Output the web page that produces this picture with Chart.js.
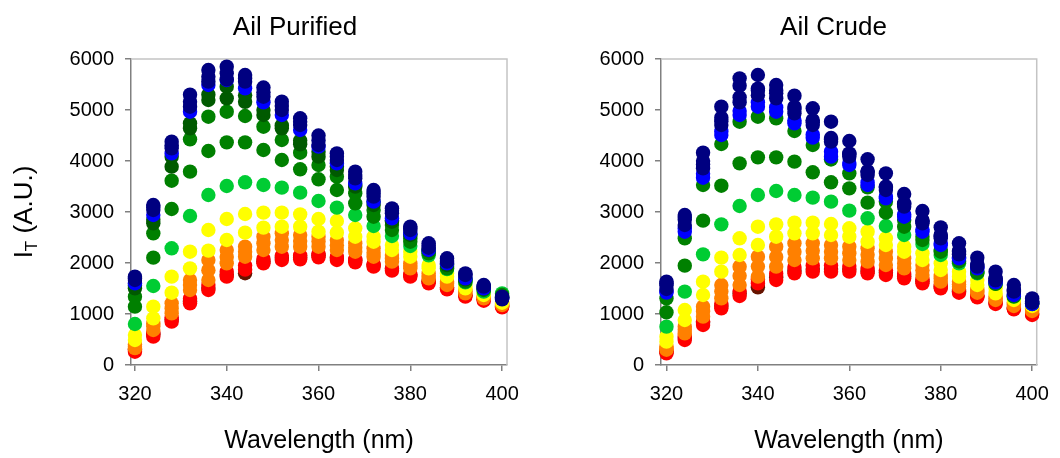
<!DOCTYPE html>
<html>
<head>
<meta charset="utf-8">
<script src="https://cdn.jsdelivr.net/npm/chart.js@4.4.1/dist/chart.umd.min.js"></script>
<style>
  body { margin: 0; background: #fff; }
  #wrap { position: relative; width: 1060px; height: 458px; }
  canvas { position: absolute; top: 0; }
</style>
</head>
<body>
<div id="wrap">
  <canvas id="left" width="530" height="458" style="left:0"></canvas>
  <canvas id="right" width="530" height="458" style="left:530px"></canvas>
</div>
<script>
// wavelengths (nm) and tick labels
var wavelengths = [320, 324, 328, 332, 336, 340, 344, 348, 352, 356, 360, 364, 368, 372, 376, 380, 384, 388, 392, 396, 400];
var xTicks = [320, 340, 360, 380, 400];
var yTicks = [0, 1000, 2000, 3000, 4000, 5000, 6000];

// Ail Purified
var pDarkRed    = [300, 600, 890, 1250, 1510, 1770, 1800, 2030, 2100, 2110, 2150, 2100, 2050, 1965, 1885, 1765, 1635, 1515, 1370, 1290, 1160];
var pRed1       = [261, 556, 850, 1209, 1471, 1732, 1870, 1993, 2059, 2072, 2111, 2059, 2013, 1928, 1850, 1732, 1601, 1484, 1340, 1261, 1131];
var pRed2       = [300, 620, 930, 1300, 1570, 1830, 1950, 2080, 2140, 2150, 2180, 2120, 2070, 1980, 1900, 1780, 1640, 1520, 1370, 1285, 1150];
var pOrange1    = [330, 686, 1013, 1471, 1667, 1993, 2124, 2255, 2320, 2320, 2320, 2255, 2222, 2124, 2026, 1895, 1699, 1569, 1405, 1307, 1176];
var pOrange2    = [359, 760, 1110, 1570, 1860, 2120, 2220, 2385, 2450, 2430, 2420, 2350, 2300, 2200, 2090, 1945, 1750, 1600, 1440, 1325, 1190];
var pOrange3    = [400, 817, 1209, 1667, 2059, 2255, 2320, 2516, 2582, 2549, 2516, 2451, 2386, 2288, 2157, 1993, 1797, 1634, 1471, 1340, 1209];
var pYellow1    = [490, 915, 1418, 1895, 2242, 2451, 2595, 2693, 2712, 2712, 2614, 2595, 2516, 2418, 2255, 2124, 1895, 1732, 1503, 1373, 1222];
var pYellow2    = [588, 1144, 1732, 2222, 2647, 2863, 2961, 2987, 2987, 2954, 2863, 2824, 2680, 2516, 2353, 2222, 1961, 1797, 1569, 1405, 1242];
var pLightGreen = [804, 1549, 2288, 2922, 3333, 3510, 3582, 3529, 3477, 3379, 3216, 3085, 2941, 2725, 2529, 2333, 2150, 1880, 1620, 1438, 1405];
var pGreen1     = [1144, 2105, 3059, 3791, 4196, 4366, 4366, 4216, 4020, 3837, 3641, 3431, 3170, 2908, 2647, 2418, 2190, 1895, 1634, 1471, 1373];
var pGreen2     = [1340, 2582, 3614, 4425, 4869, 4967, 4882, 4673, 4412, 4163, 3922, 3693, 3366, 3039, 2745, 2484, 2222, 1928, 1667, 1484, 1340];
var pDarkGreen1 = [1503, 2778, 3889, 4641, 5196, 5229, 5160, 4902, 4641, 4327, 4085, 3824, 3497, 3137, 2810, 2549, 2250, 1960, 1680, 1500, 1330];
var pDarkGreen2 = [1560, 2850, 4085, 4739, 5300, 5458, 5290, 5000, 4700, 4400, 4180, 3890, 3530, 3200, 2840, 2565, 2260, 1975, 1690, 1503, 1320];
var pBlue       = [1601, 2941, 4150, 4967, 5490, 5588, 5425, 5150, 4902, 4608, 4281, 3954, 3562, 3203, 2876, 2582, 2255, 1993, 1699, 1503, 1307];
var pNavy1      = [1667, 3039, 4248, 5065, 5556, 5600, 5556, 5261, 5000, 4706, 4314, 4020, 3660, 3301, 2974, 2647, 2300, 2026, 1765, 1536, 1288];
var pNavy2      = [1700, 3090, 4310, 5160, 5650, 5720, 5620, 5350, 5080, 4770, 4400, 4085, 3725, 3366, 3023, 2680, 2340, 2059, 1781, 1552, 1314];
var pNavy3      = [1732, 3137, 4379, 5300, 5784, 5850, 5686, 5440, 5163, 4837, 4500, 4150, 3791, 3431, 3072, 2712, 2386, 2092, 1797, 1569, 1340];

// Ail Crude
var cDarkRed    = [260, 530, 830, 1160, 1400, 1523, 1720, 1850, 1880, 1880, 1880, 1845, 1810, 1740, 1640, 1535, 1445, 1350, 1215, 1108, 1000];
var cRed1       = [229, 490, 784, 1111, 1353, 1600, 1667, 1797, 1830, 1830, 1830, 1797, 1765, 1699, 1601, 1503, 1418, 1327, 1196, 1092, 980];
var cRed2       = [270, 560, 860, 1200, 1450, 1680, 1790, 1920, 1950, 1950, 1940, 1900, 1860, 1790, 1680, 1570, 1475, 1370, 1235, 1125, 1020];
var cOrange1    = [300, 621, 948, 1307, 1569, 1732, 1928, 2059, 2092, 2092, 2059, 2026, 1961, 1895, 1765, 1634, 1536, 1418, 1275, 1157, 1059];
var cOrange2    = [327, 690, 1050, 1440, 1750, 1930, 2120, 2220, 2240, 2220, 2190, 2160, 2090, 1990, 1860, 1700, 1585, 1450, 1310, 1190, 1085];
var cOrange3    = [360, 752, 1144, 1569, 1928, 2124, 2320, 2386, 2386, 2353, 2320, 2288, 2222, 2092, 1961, 1765, 1634, 1484, 1340, 1222, 1111];
var cYellow1    = [458, 882, 1373, 1830, 2157, 2353, 2516, 2582, 2582, 2549, 2516, 2418, 2353, 2222, 2059, 1863, 1732, 1569, 1405, 1275, 1157];
var cYellow2    = [556, 1078, 1634, 2105, 2484, 2712, 2758, 2791, 2791, 2765, 2680, 2614, 2484, 2320, 2190, 1993, 1830, 1667, 1503, 1307, 1176];
var cLightGreen = [752, 1438, 2170, 2758, 3118, 3333, 3412, 3333, 3281, 3203, 3026, 2876, 2725, 2549, 2373, 2157, 1993, 1797, 1601, 1340, 1196];
var cGreen1     = [1033, 1948, 2830, 3516, 3954, 4072, 4072, 3987, 3778, 3582, 3464, 3183, 2987, 2712, 2451, 2222, 2030, 1810, 1590, 1345, 1200];
var cGreen2     = [1307, 2484, 3529, 4333, 4771, 4869, 4837, 4588, 4314, 4030, 3758, 3484, 3203, 2843, 2516, 2255, 2059, 1830, 1601, 1353, 1209];
var cBlue1      = [1420, 2614, 3673, 4510, 4902, 5065, 4967, 4739, 4458, 4085, 3922, 3529, 3268, 2908, 2614, 2353, 2092, 1895, 1621, 1373, 1196];
var cBlue2      = [1450, 2680, 3750, 4580, 4980, 5150, 5050, 4800, 4520, 4183, 3960, 3580, 3300, 2950, 2650, 2380, 2110, 1910, 1635, 1390, 1205];
var cNavy1      = [1490, 2745, 3856, 4706, 5150, 5290, 5229, 4935, 4706, 4379, 4085, 3725, 3431, 3105, 2778, 2484, 2170, 1928, 1660, 1438, 1222];
var cNavy2      = [1560, 2850, 3930, 4780, 5250, 5380, 5330, 5020, 4760, 4420, 4130, 3780, 3480, 3150, 2820, 2530, 2220, 1960, 1690, 1460, 1240];
var cNavy3      = [1600, 2900, 4000, 4850, 5477, 5420, 5380, 5060, 4800, 4450, 4150, 3800, 3500, 3170, 2840, 2550, 2240, 1980, 1700, 1480, 1250];
var cNavy4      = [1634, 2941, 4163, 5065, 5621, 5686, 5490, 5281, 5033, 4771, 4392, 4033, 3758, 3353, 3020, 2699, 2386, 2105, 1830, 1569, 1307];

var FONT = "'Liberation Sans', Arial, Helvetica, sans-serif";
var colors = {
  darkred: '#661400', red: '#ff0000', orange: '#ff8000', yellow: '#ffff00',
  lightgreen: '#00cc33', green: '#008000', darkgreen: '#005a00', blue: '#0000ff', navy: '#000080'
};

// bottom to top (later ones drawn over earlier ones)
var purifiedSeries = [
  [pDarkRed, 'darkred'], [pRed1, 'red'], [pRed2, 'red'],
  [pOrange1, 'orange'], [pOrange2, 'orange'], [pOrange3, 'orange'],
  [pYellow1, 'yellow'], [pYellow2, 'yellow'], [pLightGreen, 'lightgreen'],
  [pGreen1, 'green'], [pGreen2, 'green'], [pDarkGreen1, 'darkgreen'], [pDarkGreen2, 'darkgreen'],
  [pBlue, 'blue'], [pNavy1, 'navy'], [pNavy2, 'navy'], [pNavy3, 'navy']
];
var crudeSeries = [
  [cDarkRed, 'darkred'], [cRed1, 'red'], [cRed2, 'red'],
  [cOrange1, 'orange'], [cOrange2, 'orange'], [cOrange3, 'orange'],
  [cYellow1, 'yellow'], [cYellow2, 'yellow'], [cLightGreen, 'lightgreen'],
  [cGreen1, 'green'], [cGreen2, 'green'], [cBlue1, 'blue'], [cBlue2, 'blue'],
  [cNavy1, 'navy'], [cNavy2, 'navy'], [cNavy3, 'navy'], [cNavy4, 'navy']
];

var panelText = {
  id: 'panelText',
  beforeDatasetsDraw: function(chart) {
    var ctx = chart.ctx, a = chart.chartArea;
    ctx.save();
    ctx.strokeStyle = '#c4c4c4';
    ctx.lineWidth = 1.5;
    ctx.beginPath();
    ctx.moveTo(a.left, a.top);
    ctx.lineTo(a.right, a.top);
    ctx.lineTo(a.right, a.bottom);
    ctx.stroke();
    ctx.restore();
  },
  afterDraw: function(chart) {
    var o = chart.options.plugins.panelText;
    var ctx = chart.ctx, a = chart.chartArea;
    ctx.save();
    ctx.fillStyle = '#000';
    ctx.textBaseline = 'alphabetic';
    ctx.textAlign = 'center';
    ctx.font = '26px ' + FONT;
    ctx.fillText(o.title, o.titleX, 35);
    ctx.font = '25px ' + FONT;
    ctx.fillText('Wavelength (nm)', (a.left + a.right) / 2, 448);
    if (o.yTitle) {
      var big = '26px ' + FONT, small = '17px ' + FONT;
      ctx.translate(32, (a.top + a.bottom) / 2);
      ctx.rotate(-Math.PI / 2);
      ctx.font = big;
      var wI = ctx.measureText('I').width;
      var wRest = ctx.measureText(' (A.U.)').width;
      ctx.font = small;
      var wT = ctx.measureText('T').width;
      var x0 = -(wI + wT + wRest) / 2;
      ctx.textAlign = 'left';
      ctx.font = big;
      ctx.fillText('I', x0, 0);
      ctx.font = small;
      ctx.fillText('T', x0 + wI, 5);
      ctx.font = big;
      ctx.fillText(' (A.U.)', x0 + wI + wT, 0);
    }
    ctx.restore();
  }
};

function makePanel(id, series, xMin, xMax, padRight, textOpts) {
  var datasets = series.map(function(s) {
    return {
      data: wavelengths.map(function(w, i) { return { x: w, y: s[0][i] }; }),
      backgroundColor: colors[s[1]],
      borderWidth: 0,
      pointRadius: 7.2,
      pointHoverRadius: 7.2,
      clip: false
    };
  }).reverse();

  return new Chart(document.getElementById(id), {
    type: 'scatter',
    data: { datasets: datasets },
    options: {
      responsive: false,
      animation: false,
      events: [],
      layout: { padding: { left: 0, top: 59, right: padRight, bottom: 0 } },
      plugins: { legend: { display: false }, tooltip: { enabled: false }, panelText: textOpts },
      scales: {
        x: {
          type: 'linear', min: xMin, max: xMax,
          afterBuildTicks: function(scale) { scale.ticks = xTicks.map(function(v) { return { value: v }; }); },
          afterFit: function(scale) { scale.height = 93; },
          ticks: { font: { family: FONT, size: 20 }, color: '#000', padding: 11, maxRotation: 0, autoSkip: false,
                   callback: function(v) { return String(v); } },
          grid: { drawOnChartArea: false, tickLength: 6, color: '#808080', lineWidth: 1.5 },
          border: { color: '#808080', width: 1.5 }
        },
        y: {
          min: 0, max: 6000,
          afterBuildTicks: function(scale) { scale.ticks = yTicks.map(function(v) { return { value: v }; }); },
          afterFit: function(scale) { scale.width = 131; },
          ticks: { font: { family: FONT, size: 20 }, color: '#000', padding: 11,
                   callback: function(v) { return String(v); } },
          grid: { drawOnChartArea: false, tickLength: 6, color: '#808080', lineWidth: 1.5 },
          border: { color: '#808080', width: 1.5 }
        }
      }
    },
    plugins: [panelText]
  });
}

makePanel('left', purifiedSeries, 319.14, 401.07, 17, { title: 'Ail Purified', titleX: 295, yTitle: true });
makePanel('right', crudeSeries, 318.8, 401.0, 14, { title: 'Ail Crude', titleX: 303.5, yTitle: false });
</script>
</body>
</html>
